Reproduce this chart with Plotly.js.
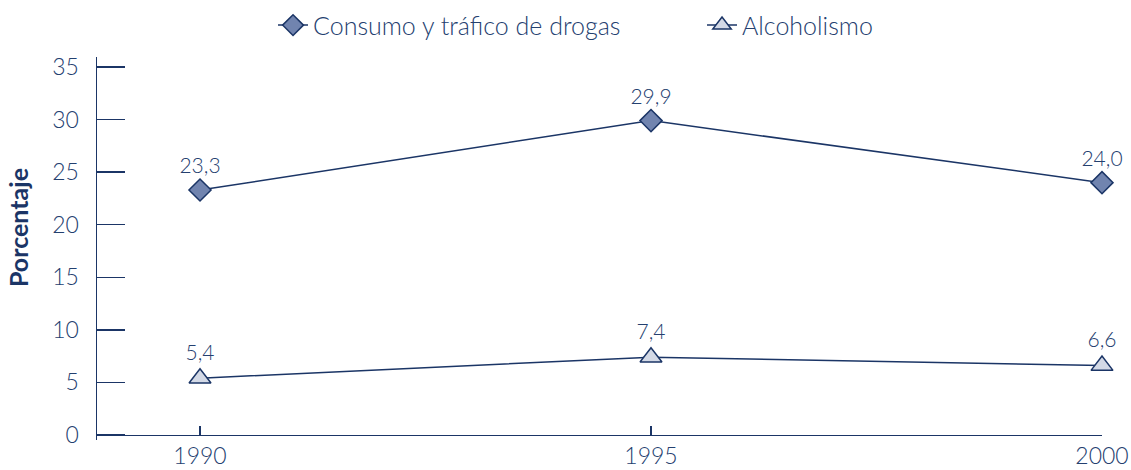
<!DOCTYPE html>
<html>
<head>
<meta charset="utf-8">
<script src="https://cdn.plot.ly/plotly-3.0.1.min.js"></script>
<style>html,body{margin:0;padding:0;background:#fff;}#chart{width:1131px;height:470px;}</style>
</head>
<body>
<div id="chart"></div>
<script>
const years = [1990, 1995, 2000];
const drogas = [23.3, 29.9, 24.0];
const alcohol = [5.4, 7.4, 6.6];
const seriesNames = ["Consumo y tráfico de drogas", "Alcoholismo"];
const yTicks = [0, 5, 10, 15, 20, 25, 30, 35];
const yTitle = "Porcentaje";

const navy = "#1b3566";
const textCol = "#24406f";
const fontFam = "Lato, 'Open Sans', sans-serif";

const traces = [
  {
    x: years, y: drogas, name: seriesNames[0], type: "scatter", mode: "lines+markers+text",
    line: {color: navy, width: 1.5},
    marker: {symbol: "diamond", size: 17, color: "#7184af", line: {color: navy, width: 1.5}},
    texttemplate: "%{y:.1f}", textposition: "top center",
    textfont: {family: fontFam, size: 21, color: textCol, weight: 300},
    cliponaxis: false, hoverinfo: "skip"
  },
  {
    x: years, y: alcohol, name: seriesNames[1], type: "scatter", mode: "lines+markers+text",
    line: {color: navy, width: 1.5},
    marker: {symbol: "triangle-up", size: 19, color: "#d3d9e6", line: {color: navy, width: 1.5}},
    texttemplate: "%{y:.1f}", textposition: "top center",
    textfont: {family: fontFam, size: 21, color: textCol, weight: 300},
    cliponaxis: false, hoverinfo: "skip"
  }
];

const layout = {
  width: 1131, height: 470,
  margin: {l: 97, r: 29, t: 57, b: 30},
  paper_bgcolor: "#fff", plot_bgcolor: "#fff",
  separators: ", ",
  font: {family: fontFam, color: textCol, size: 22, weight: 300},
  showlegend: true,
  legend: {
    orientation: "h", x: 0.2414, xanchor: "left", xref: "container",
    y: 0.995, yanchor: "top", yref: "container",
    entrywidth: 384, entrywidthmode: "pixels",
    font: {family: fontFam, size: 25, color: textCol, weight: 300},
    traceorder: "normal"
  },
  xaxis: {
    range: [1988.858, 2000], tickvals: years, ticktext: years.map(String),
    showgrid: false, zeroline: false, showline: true, linecolor: navy, linewidth: 1.5,
    ticks: "inside", ticklen: 9, tickwidth: 1.5, tickcolor: navy,
    anchor: "free", position: 0.0131,
    tickfont: {family: fontFam, size: 23, color: textCol, weight: 300}
  },
  yaxis: {
    range: [-0.476, 35.95], tickvals: yTicks,
    showgrid: false, zeroline: false, showline: true, linecolor: navy, linewidth: 1.5,
    ticks: "inside", ticklen: 28, tickwidth: 1.5, tickcolor: navy,
    ticklabelstandoff: 12,
    tickfont: {family: fontFam, size: 23, color: textCol, weight: 300}
  },
  annotations: [{
    text: yTitle, textangle: -90, xref: "paper", yref: "paper",
    x: -0.0786, y: 0.5535, xanchor: "center", yanchor: "middle", showarrow: false,
    font: {family: fontFam, size: 25, color: navy, weight: 700}
  }]
};

Plotly.newPlot("chart", traces, layout, {staticPlot: true, displayModeBar: false});
</script>
</body>
</html>
